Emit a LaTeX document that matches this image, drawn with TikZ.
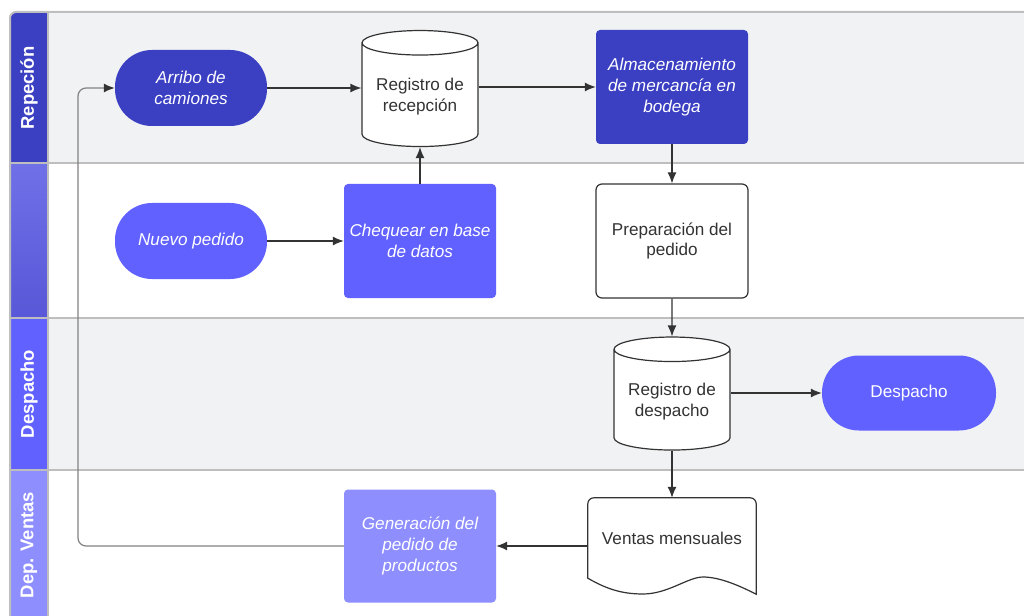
\documentclass[tikz,border=0pt]{standalone}
\usepackage{fontspec}
\setmainfont{Liberation Sans}
\usetikzlibrary{shapes.geometric,arrows.meta}
\definecolor{deepblue}{RGB}{59,63,194}
\definecolor{midblue}{RGB}{97,97,255}
\definecolor{paleblue}{RGB}{142,142,255}
\definecolor{lanegray}{RGB}{241,242,244}
\definecolor{rulegray}{RGB}{190,190,190}
\definecolor{inkgray}{RGB}{51,51,51}
\definecolor{loopgray}{RGB}{130,130,130}
\tikzset{
  flowtext/.style={font=\fontsize{17.2}{21}\selectfont, align=center},
  slanted/.style={font=\fontsize{17.2}{21}\selectfont\itshape},
  startstop/.style={flowtext, rectangle, rounded corners=37bp, minimum width=152bp, minimum height=76bp, text=white},
  procbox/.style={flowtext, rectangle, rounded corners=4bp, minimum width=152bp, minimum height=114bp, text=white},
  dbase/.style={flowtext, cylinder, shape border rotate=90, aspect=0.26, draw=inkgray, line width=1.2bp, fill=white, minimum width=116bp, minimum height=116bp, text=inkgray},
  docbox/.style={flowtext, rectangle, minimum width=168bp, minimum height=80bp, text=inkgray},
  flowline/.style={->, draw=inkgray, line width=1.2bp},
  loopline/.style={-{Latex[length=11bp,width=9bp,color=inkgray]}, draw=loopgray, line width=1.2bp, rounded corners=8bp},
  lanelabel/.style={rotate=90, text=white, font=\fontsize{18.5}{22}\selectfont\bfseries},
  lanerule/.style={draw=rulegray, line width=2bp}
}
\begin{document}
\begin{tikzpicture}[>={Latex[length=11bp,width=9bp]}, x=1bp, y=-1bp]
  \clip (0,0) rectangle (1024,616);
%%
  % Lanes
\begin{scope}
  \clip[rounded corners=6bp] (10,12) rectangle (1060,660);
  \fill[lanegray] (48,12) rectangle (1060,163);
  \fill[white] (48,163) rectangle (1060,318);
  \fill[lanegray] (48,318) rectangle (1060,470);
  \fill[white] (48,470) rectangle (1060,660);
  \fill[deepblue] (10,12) rectangle (48,163);
  \shade[top color={rgb,255:red,112;green,112;blue,232}, bottom color={rgb,255:red,88;green,88;blue,216}] (10,163) rectangle (48,318);
  \fill[midblue] (10,318) rectangle (48,470);
  \fill[paleblue] (10,470) rectangle (48,660);
\end{scope}
  \draw[lanerule, rounded corners=6bp] (10,12) rectangle (1060,660);
  \draw[lanerule] (48,12) -- (48,660);
  \draw[lanerule] (10,163) -- (1060,163);
  \draw[lanerule] (10,318) -- (1060,318);
  \draw[lanerule] (10,470) -- (1060,470);
  \node[lanelabel] (repecion) at (29,88) {Repeción};
  \node[lanelabel] (despachlane) at (29,394) {Despacho};
  \node[lanelabel] (ventaslane) at (29,545) {Dep. Ventas};
  % Node: Arribo de camiones
  \node[startstop, slanted, fill=deepblue] (arribo) at (191,88) {Arribo de\\camiones};
  % Node: Registro de recepcion
  \node[dbase] (regrec) at (420,97) {Registro de\\recepción};
  % Node: Almacenamiento
  \node[procbox, slanted, fill=deepblue] (almac) at (672,87) {Almacenamiento\\de mercancía en\\bodega};
  % Node: Nuevo pedido
  \node[startstop, slanted, fill=midblue] (nuevo) at (191,241) {Nuevo pedido};
  % Node: Chequear
  \node[procbox, slanted, fill=midblue] (cheq) at (420,241) {Chequear en base\\de datos};
  % Node: Preparacion del pedido
  \node[procbox, draw=inkgray, line width=1.2bp, rounded corners=6bp, fill=white, text=inkgray] (prep) at (672,241) {Preparación del\\pedido};
  % Node: Registro de despacho
  \node[dbase, minimum height=113bp] (regdesp) at (672,402) {Registro de\\despacho};
  % Node: Despacho
  \node[startstop, fill=midblue, minimum width=174bp, minimum height=75bp] (despacho) at (909,393) {Despacho};
  % Node: Ventas mensuales
  \node[docbox] (ventas) at (672,538) {Ventas mensuales};
  \draw[draw=inkgray, line width=1.2bp, fill=white] (ventas.south west) [rounded corners=6bp] -- (ventas.north west) -- (ventas.north east) [sharp corners] -- ([yshift=-16bp]ventas.south east)
    .. controls (740,586) and (720,577) .. (703,577) .. controls (688,577) and (668,594) .. (643,594) .. controls (620,594) and (605,588) .. (ventas.south west) -- cycle;
  \node[docbox] at (ventas) {Ventas mensuales};
  % Node: Generacion del pedido
  \node[procbox, slanted, fill=paleblue, minimum height=113bp] (gen) at (420,546) {Generación del\\pedido de\\productos};
  \coordinate (loopx) at (78,0);
%
  % Edge: arribo -> regrec
  \draw[flowline] (arribo) -- (arribo -| regrec.west);
  % Edge: regrec -> almac
  \draw[flowline] (almac -| regrec.east) -- (almac);
  % Edge: almac -> prep
  \draw[flowline] (almac) -- (prep);
  % Edge: nuevo -> cheq
  \draw[flowline] (nuevo) -- (cheq);
  % Edge: cheq -> regrec
  \draw[flowline] (cheq) -- (regrec);
  % Edge: prep -> regdesp
  \draw[flowline] (prep) -- (regdesp);
  % Edge: regdesp -> despacho
  \draw[flowline] (despacho -| regdesp.east) -- (despacho);
  % Edge: regdesp -> ventas
  \draw[flowline] (regdesp) -- (ventas);
  % Edge: ventas -> gen
  \draw[flowline] (gen -| ventas.west) -- (gen.east);
  % Edge: gen -> arribo
  \draw[loopline] (gen.west) -- (gen.west -| loopx) -- (loopx |- arribo.west) -- (arribo.west);
%
\end{tikzpicture}
\end{document}
